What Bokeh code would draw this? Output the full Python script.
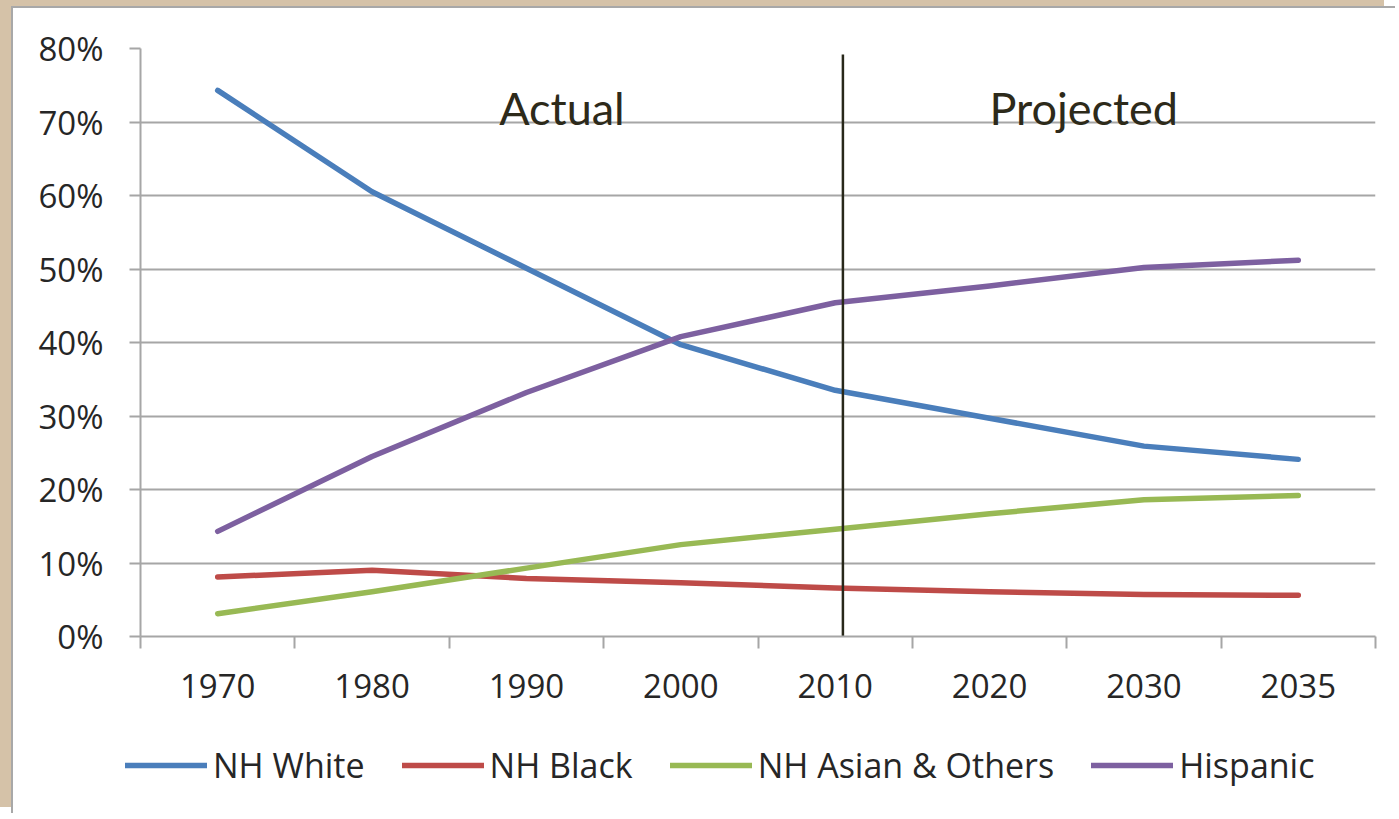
from bokeh.plotting import figure
from bokeh.layouts import column
from bokeh.models import (FixedTicker, NumeralTickFormatter, Range1d, Legend, LegendItem,
                          Segment, ColumnDataSource, Label)
from bokeh.embed import file_html
from bokeh.resources import INLINE

years = ["1970", "1980", "1990", "2000", "2010", "2020", "2030", "2035"]
nh_white = [0.743, 0.605, 0.501, 0.397, 0.335, 0.297, 0.259, 0.241]
nh_black = [0.081, 0.090, 0.079, 0.073, 0.066, 0.061, 0.057, 0.056]
nh_asian = [0.031, 0.061, 0.093, 0.125, 0.146, 0.167, 0.186, 0.192]
hispanic = [0.143, 0.245, 0.332, 0.408, 0.454, 0.477, 0.502, 0.512]
series_names = ["NH White", "NH Black", "NH Asian & Others", "Hispanic"]
series_colors = ["#4A7EBB", "#BE4B48", "#98B954", "#7D60A0"]
y_ticks = [0.0, 0.1, 0.2, 0.3, 0.4, 0.5, 0.6, 0.7, 0.8]
divider_year = "2010"
annotations = [("Actual", 2.73, 0.719), ("Projected", 6.11, 0.719)]

FONT = "Open Sans"
n = len(years)
xs = [i + 0.5 for i in range(n)]

p = figure(width=1384, height=715, output_backend="svg", toolbar_location=None,
           x_range=Range1d(0, n), y_range=Range1d(0, 0.8), frame_align=False,
           min_border_left=127, min_border_right=22, min_border_top=40, min_border_bottom=87)
p.background_fill_color = "white"
p.border_fill_color = "white"
p.outline_line_color = None

# axes
p.xgrid.visible = False
p.ygrid.grid_line_color = "#A6A6A6"
p.ygrid.grid_line_width = 2
p.ygrid.ticker = FixedTicker(ticks=y_ticks)

p.yaxis.ticker = FixedTicker(ticks=y_ticks)
p.yaxis.formatter = NumeralTickFormatter(format="0%")
p.yaxis.axis_line_color = "#A6A6A6"
p.yaxis.axis_line_width = 2
p.yaxis.major_tick_line_color = "#A6A6A6"
p.yaxis.major_tick_line_width = 2
p.yaxis.major_tick_out = 11
p.yaxis.major_tick_in = 0
p.yaxis.minor_tick_line_color = None
p.yaxis.major_label_standoff = 26
p.yaxis.major_label_text_font = FONT
p.yaxis.major_label_text_font_size = "33px"
p.yaxis.major_label_text_color = "#262626"

p.xaxis.ticker = FixedTicker(ticks=xs, minor_ticks=list(range(n + 1)))
p.xaxis.major_label_overrides = {x: y for x, y in zip(xs, years)}
p.xaxis.axis_line_color = "#A6A6A6"
p.xaxis.axis_line_width = 2
p.xaxis.major_tick_line_color = None
p.xaxis.major_tick_out = 0
p.xaxis.major_tick_in = 0
p.xaxis.minor_tick_line_color = "#A6A6A6"
p.xaxis.minor_tick_line_width = 2
p.xaxis.minor_tick_out = 12
p.xaxis.minor_tick_in = 0
p.xaxis.major_label_standoff = 25
p.xaxis.major_label_text_font = FONT
p.xaxis.major_label_text_font_size = "33px"
p.xaxis.major_label_text_color = "#262626"

# series
all_series = [nh_white, nh_black, nh_asian, hispanic]
for vals, col in zip(all_series, series_colors):
    p.line(xs, vals, line_color=col, line_width=5.5, line_cap="round", line_join="round")

# divider
xd = years.index(divider_year) + 0.55
src = ColumnDataSource(dict(x0=[xd], y0=[0.0], x1=[xd], y1=[0.792]))
p.add_glyph(src, Segment(x0="x0", y0="y0", x1="x1", y1="y1", line_color="#28281A", line_width=2.5))

for txt, xv, yv in annotations:
    p.add_layout(Label(x=xv, y=yv, text=txt, text_font="Lato", text_font_size="45px",
                       text_color="#2D2A1A", text_align="center", text_baseline="alphabetic"))

# legend strip (separate figure below the chart)
leg = figure(width=1384, height=92, output_backend="svg", toolbar_location=None,
             x_range=Range1d(0, 1), y_range=Range1d(0, 1), frame_align=False,
             x_axis_location=None, y_axis_location=None,
             min_border_left=0, min_border_right=0, min_border_top=0, min_border_bottom=0)
leg.grid.visible = False
leg.outline_line_color = None
leg.background_fill_color = "white"
leg.border_fill_color = "white"
items = []
for name, col in zip(series_names, series_colors):
    # hidden sample line outside the visible range; only its legend glyph is shown
    r = leg.line([5, 6], [5, 5], line_color=col, line_width=5.5, line_cap="round")
    items.append(LegendItem(label=name, renderers=[r]))
legend = Legend(items=items, orientation="horizontal", location=(102, 17),
                label_text_font=FONT, label_text_font_size="34px", label_text_color="#262626",
                glyph_width=82, glyph_height=20, label_standoff=6, spacing=37,
                border_line_alpha=0, background_fill_alpha=0, margin=0, padding=10)
leg.add_layout(legend, "center")

layout = column(p, leg, spacing=0)
layout.styles = {"margin-left": "13px", "margin-top": "8px", "background-color": "white",
                 "box-shadow": "-2px -2px 0 0 #A8A8A8, -13px -8px 0 0 #D5C2A8"}

open("out.html", "w").write(file_html(layout, INLINE))
